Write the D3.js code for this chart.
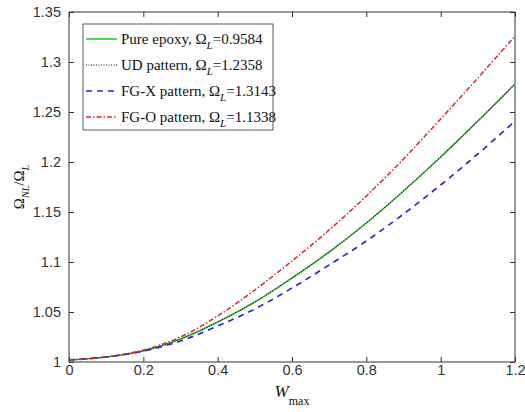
<!DOCTYPE html>
<html>
<head>
<meta charset="utf-8">
<script src="https://cdn.jsdelivr.net/npm/d3@7"></script>
<style>
  body { margin: 0; background: #fff; }
  .tick text { font-family: "Liberation Sans", Arial, sans-serif; font-size: 14.5px; fill: #333; }
  .tick line { stroke: #333; }
  .domain { stroke: #333; }
</style>
</head>
<body>
<div id="chart"></div>
<script>
// W_max sample points
const wMax = [0, 0.1, 0.2, 0.3, 0.4, 0.5, 0.6, 0.7, 0.8, 0.9, 1.0, 1.1, 1.2];

// Omega_NL / Omega_L for each case
const pureEpoxy = [1.002, 1.005, 1.011, 1.023, 1.040, 1.060, 1.084, 1.110, 1.139, 1.171, 1.205, 1.241, 1.278];
const udPattern = [1.002, 1.005, 1.011, 1.023, 1.040, 1.060, 1.084, 1.110, 1.139, 1.171, 1.205, 1.241, 1.278];
const fgxPattern = [1.002, 1.005, 1.011, 1.021, 1.036, 1.053, 1.074, 1.097, 1.121, 1.148, 1.177, 1.208, 1.241];
const fgoPattern = [1.002, 1.005, 1.012, 1.025, 1.046, 1.072, 1.101, 1.132, 1.166, 1.203, 1.243, 1.284, 1.326];

const seriesNames = ["Pure epoxy, ", "UD pattern, ", "FG-X pattern, ", "FG-O pattern, "];
const omegaL = ["0.9584", "1.2358", "1.3143", "1.1338"];

const xTicks = [0, 0.2, 0.4, 0.6, 0.8, 1, 1.2];
const yTicks = [1, 1.05, 1.1, 1.15, 1.2, 1.25, 1.3, 1.35];

const margin = { top: 12, right: 10, bottom: 50, left: 69 };
const width = 525 - margin.left - margin.right;
const height = 412 - margin.top - margin.bottom;

const svg = d3.select("#chart").append("svg")
    .attr("width", 525)
    .attr("height", 412);

const g = svg.append("g")
    .attr("transform", `translate(${margin.left},${margin.top})`);

const x = d3.scaleLinear().domain([0, 1.2]).range([0, width]);
const y = d3.scaleLinear().domain([1, 1.35]).range([height, 0]);

// axes, ticks pointing inward like matlab
g.append("g")
    .attr("transform", `translate(0,${height})`)
    .call(d3.axisBottom(x).tickValues(xTicks).tickSize(-5).tickPadding(3).tickFormat(d3.format("")))
    .call(a => a.select(".domain").attr("d", `M0,0H${width}`));

g.append("g")
    .call(d3.axisLeft(y).tickValues(yTicks).tickSize(-5).tickPadding(8).tickFormat(d3.format("")))
    .call(a => a.select(".domain").attr("d", `M0,0V${height}`));

g.append("g")
    .call(d3.axisTop(x).tickValues(xTicks).tickSize(-5).tickFormat(""))
    .call(a => a.select(".domain").attr("d", `M0,0H${width}`));

g.append("g")
    .attr("transform", `translate(${width},0)`)
    .call(d3.axisRight(y).tickValues(yTicks).tickSize(-5).tickFormat(""))
    .call(a => a.select(".domain").attr("d", `M0,0V${height}`));

// lines
const styles = [
    { data: pureEpoxy, color: "#3fc43f", dash: null, w: 1.6 },
    { data: udPattern, color: "#111111", dash: "1,1.5", w: 1.1 },
    { data: fgxPattern, color: "#2a2acc", dash: "6,5", w: 1.7 },
    { data: fgoPattern, color: "#d42a2a", dash: "5,2,1.5,2", w: 1.5 }
];

const line = d3.line()
    .x((d, i) => x(wMax[i]))
    .y(d => y(d))
    .curve(d3.curveCatmullRom);

g.selectAll(".curve")
    .data(styles)
    .enter()
    .append("path")
    .attr("class", "curve")
    .attr("d", d => line(d.data))
    .attr("fill", "none")
    .attr("stroke", d => d.color)
    .attr("stroke-width", d => d.w)
    .attr("stroke-dasharray", d => d.dash);

// legend
const legend = g.append("g").attr("transform", "translate(14,12)");
legend.append("rect")
    .attr("width", 190)
    .attr("height", 106)
    .attr("fill", "#fff")
    .attr("stroke", "#333")
    .attr("stroke-width", 0.8);

const legendColors = ["#4cd94c", "#111111", "#2a2acc", "#d42a2a"];

const items = legend.selectAll(".item")
    .data(styles)
    .enter()
    .append("g")
    .attr("transform", (d, i) => `translate(0,${15 + i * 26})`);

items.append("line")
    .attr("x1", 3).attr("x2", 34)
    .attr("stroke", (d, i) => legendColors[i])
    .attr("stroke-width", (d, i) => i === 0 ? 2 : d.w)
    .attr("stroke-dasharray", d => d.dash);

const labels = items.append("text")
    .attr("x", 38)
    .attr("y", 5)
    .attr("font-family", "Liberation Serif, Times New Roman, serif")
    .attr("font-size", 15)
    .attr("fill", "#111");

labels.append("tspan").text((d, i) => seriesNames[i]);
labels.append("tspan").text("\u03A9");
labels.append("tspan").attr("dy", 5).attr("font-size", 11).attr("font-style", "italic").text("L");
labels.append("tspan").attr("dy", -5).text((d, i) => "=" + omegaL[i]);

// axis titles
const xt = svg.append("text")
    .attr("x", margin.left + width / 2)
    .attr("y", 397)
    .attr("text-anchor", "middle")
    .attr("font-family", "Liberation Serif, Times New Roman, serif")
    .attr("font-size", 17)
    .attr("fill", "#111");
xt.append("tspan").attr("font-style", "italic").text("W");
xt.append("tspan").attr("dy", 8).attr("font-size", 12).text("max");

const yt = svg.append("text")
    .attr("transform", `translate(24,${margin.top + height / 2}) rotate(-90)`)
    .attr("text-anchor", "middle")
    .attr("font-family", "Liberation Serif, Times New Roman, serif")
    .attr("font-size", 15)
    .attr("fill", "#111");
yt.append("tspan").text("\u03A9");
yt.append("tspan").attr("dy", 5).attr("font-size", 10).attr("font-style", "italic").text("NL");
yt.append("tspan").attr("dy", -5).text("/\u03A9");
yt.append("tspan").attr("dy", 5).attr("font-size", 10).attr("font-style", "italic").text("L");
</script>
</body>
</html>
